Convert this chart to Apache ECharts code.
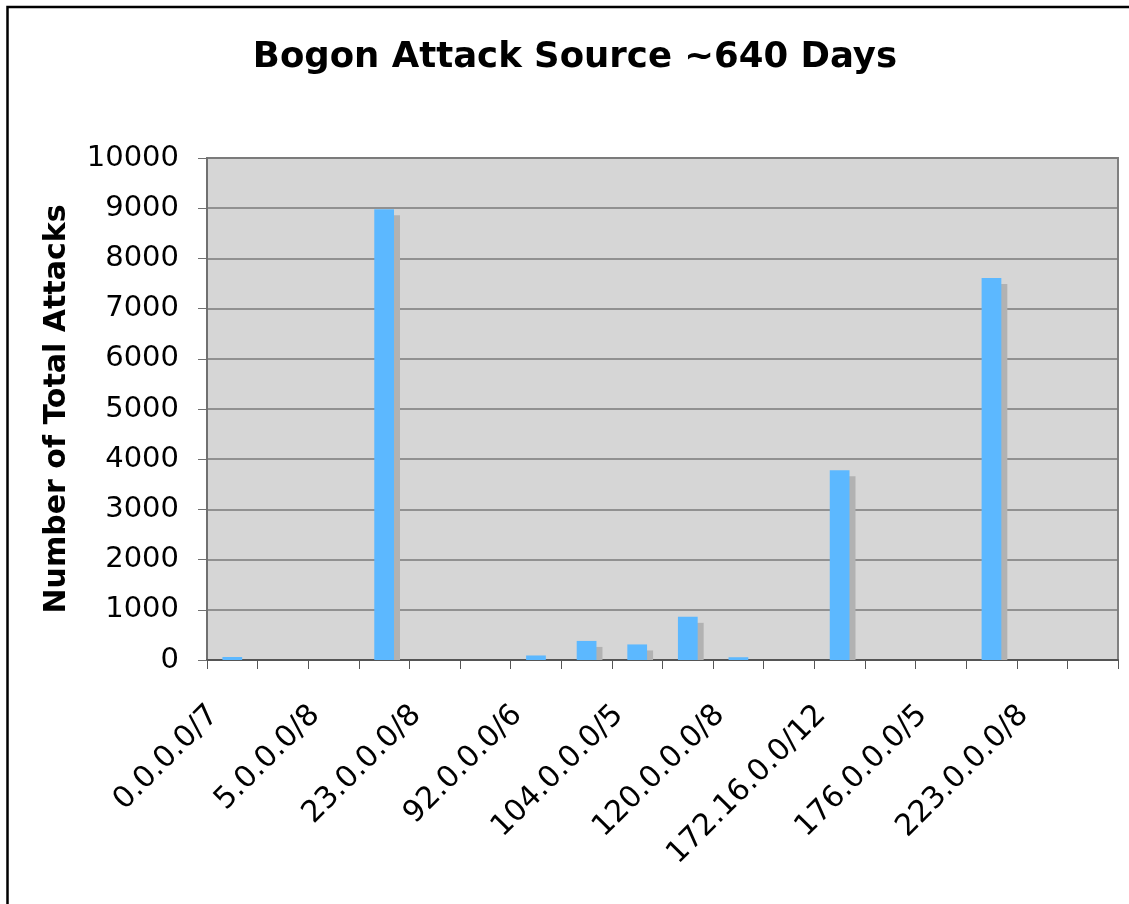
<!DOCTYPE html>
<html>
<head>
<meta charset="utf-8">
<title>Bogon Attack Source ~640 Days</title>
<script src="https://cdn.jsdelivr.net/npm/echarts@6/dist/echarts.min.js"></script>
<style>
  html, body { margin: 0; padding: 0; background: #ffffff; }
  #chart { width: 1129px; height: 904px; }
</style>
</head>
<body>
<div id="chart"></div>
<script>
// Bogon source prefixes (every other one is labelled on the axis)
const prefixes = [
  '0.0.0.0/7', '2.0.0.0/8', '5.0.0.0/8', '10.0.0.0/8', '23.0.0.0/8', '39.0.0.0/8',
  '92.0.0.0/6', '100.0.0.0/6', '104.0.0.0/5', '112.0.0.0/6', '120.0.0.0/8', '127.0.0.0/8',
  '172.16.0.0/12', '173.0.0.0/8', '176.0.0.0/5', '192.168.0.0/16', '223.0.0.0/8', '224.0.0.0/3'
];
// Total attacks seen from each prefix
const attacks = [
  60, 0, 0, 8980, 0, 0,
  90, 380, 310, 860, 55, 0,
  3780, 0, 0, 7610, 0, 0
];
const yTicks = { min: 0, max: 10000, step: 1000 };

const FONT = 'DejaVu Sans, Verdana, sans-serif';
const BAR_COLOR = '#5cb8ff';
const SHADOW_COLOR = '#b2b2b2';
const SHADOW_OFFSET = 6;

const chart = echarts.init(document.getElementById('chart'), null, { renderer: 'canvas' });

// Each bar is drawn with a flat drop shadow that stays above the category axis
function renderBar(params, api) {
  const idx = api.value(0);
  const val = api.value(1);
  const top = api.coord([idx, val]);
  const base = api.coord([idx, 0]);
  const bw = api.size([1, 0])[0] * 0.39;
  const x = top[0] - bw / 2;
  const h = base[1] - top[1];
  const children = [];
  if (h - SHADOW_OFFSET > 0) {
    children.push({
      type: 'rect',
      shape: { x: x + SHADOW_OFFSET, y: top[1] + SHADOW_OFFSET, width: bw, height: h - SHADOW_OFFSET },
      style: { fill: SHADOW_COLOR }
    });
  }
  if (h > 0) {
    children.push({
      type: 'rect',
      shape: { x: x, y: top[1], width: bw, height: h },
      style: { fill: BAR_COLOR }
    });
  }
  return { type: 'group', children: children };
}

const option = {
  backgroundColor: '#ffffff',
  animation: false,
  graphic: [
    {
      // page frame: left and top edges
      type: 'polyline',
      shape: { points: [[7.5, 950], [7.5, 7], [1200, 7]] },
      style: { fill: null, stroke: '#000000', lineWidth: 2.5 },
      silent: true
    },
    {
      type: 'text',
      x: 575,
      y: 58,
      style: {
        text: 'Bogon Attack Source ~640 Days',
        font: 'bold 35.5px ' + FONT,
        fill: '#000000',
        textAlign: 'center',
        textVerticalAlign: 'middle'
      }
    }
  ],
  grid: {
    left: 207,
    right: 11,
    top: 158,
    bottom: 244,
    show: true,
    backgroundColor: '#d6d6d6',
    borderColor: '#808080',
    borderWidth: 2
  },
  xAxis: {
    type: 'category',
    data: prefixes,
    boundaryGap: true,
    axisLine: { show: true, lineStyle: { color: '#555555', width: 2 } },
    axisTick: { show: true, interval: 0, length: 9, lineStyle: { color: '#555555', width: 1 } },
    axisLabel: {
      interval: 1,
      rotate: 45,
      margin: 32,
      padding: [0, 26, 0, 0],
      fontFamily: FONT,
      fontSize: 30,
      color: '#000000'
    },
    splitLine: { show: false }
  },
  yAxis: {
    type: 'value',
    min: yTicks.min,
    max: yTicks.max,
    interval: yTicks.step,
    name: 'Number of Total Attacks',
    nameLocation: 'middle',
    nameGap: 135,
    nameTextStyle: { fontFamily: FONT, fontSize: 30, fontWeight: 'bold', color: '#000000' },
    axisLine: { show: true, lineStyle: { color: '#707070', width: 2 } },
    axisTick: { show: true, length: 9, lineStyle: { color: '#707070', width: 1 } },
    axisLabel: {
      margin: 28,
      fontFamily: FONT,
      fontSize: 29,
      color: '#000000',
      formatter: function (v) { return String(v); }
    },
    splitLine: { show: true, lineStyle: { color: '#7a7a7a', width: 1.5 } }
  },
  series: [
    {
      type: 'custom',
      renderItem: renderBar,
      encode: { x: 0, y: 1 },
      data: attacks.map(function (v, i) { return [i, v]; }),
      clip: false
    }
  ]
};

chart.setOption(option);
</script>
</body>
</html>
